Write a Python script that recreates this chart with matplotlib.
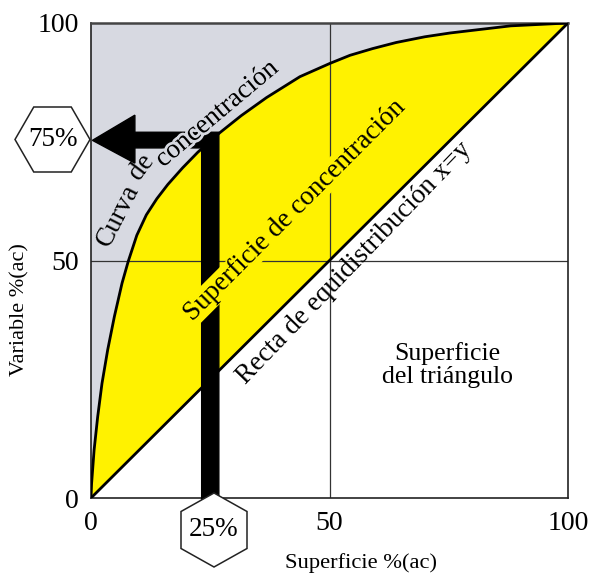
import numpy as np
import matplotlib.pyplot as plt
import matplotlib.patheffects as pe
from matplotlib.patches import Polygon

plt.rcParams['font.family'] = ['Liberation Serif', 'DejaVu Serif']

# curva de concentración
curve_x = [0, 0.12, 0.65, 1.4, 2.3, 3.5, 4.9, 6.5, 7.8, 9.6, 11.6, 13.8, 16.1,
           19.2, 22.4, 27, 31.5, 36.8, 43.8, 50.1, 54.3, 59, 64, 70, 75.3, 88, 100]
curve_y = [0, 3, 10.1, 17.1, 24.1, 31.2, 38.2, 45.2, 49.8, 55.3, 59.6, 63.0, 66.0,
           69.5, 72.8, 76.9, 80.5, 84.3, 88.7, 91.5, 93.2, 94.6, 95.9, 97.1, 97.9,
           99.4, 100]
diag = [0, 100]
ticks = [0, 50, 100]
point_x, point_y = 25, 75

gray = '#d7d9e1'
yellow = '#fff200'

fig = plt.figure(figsize=(5.92, 5.78), dpi=100)
ax = fig.add_axes([91 / 592, 1 - 498 / 578, 477 / 592, 475 / 578])
ax.set_facecolor(gray)

cx = np.array(curve_x)
cy = np.array(curve_y)
ax.fill_between(cx, cx, cy, color=yellow, lw=0, zorder=1)
ax.fill_between(diag, [0, 0], diag, color='white', lw=0, zorder=1)

ax.axvline(50, color='#333333', lw=0.9, zorder=2)
ax.axhline(50, color='#333333', lw=0.9, zorder=2)

ax.plot(cx, cy, color='black', lw=2, zorder=4, solid_joinstyle='round')
ax.plot(diag, diag, color='black', lw=2, zorder=4)

# flecha en L
bw = 3.6
arrow = [
    (point_x - bw / 2, -1.5),
    (point_x + bw / 2, -1.5),
    (point_x + bw / 2, point_y + 2.0),
    (9.2, point_y + 2.0),
    (9.2, point_y + 5.6),
    (0.3, point_y + 0.3),
    (9.2, point_y - 4.5),
    (9.2, point_y - 1.3),
    (point_x - bw / 2, point_y - 1.3),
]
ax.add_patch(Polygon(arrow, closed=True, color='black', zorder=5, clip_on=False))

ax.set_xlim(0, 100)
ax.set_ylim(0, 100)
ax.set_xticks(ticks)
ax.set_yticks(ticks)
ax.set_xticklabels([str(t) for t in ticks], fontsize=20)
ax.set_yticklabels([str(t) for t in ticks], fontsize=20)
ax.tick_params(length=0, pad=9)
for side in ['left', 'bottom', 'right']:
    ax.spines[side].set_color('#222222')
    ax.spines[side].set_linewidth(1.2)
ax.spines['top'].set_color('#444444')
ax.spines['top'].set_linewidth(1.8)

tkw = dict(fontsize=19.5, ha='center', va='center', rotation_mode='anchor', zorder=6)
ax.text(5.6, 59.5, 'Curva', rotation=63, **tkw)
ax.text(10.6, 69.8, 'de', rotation=53, **tkw)
ax.text(26.4, 80.8, 'concentración', rotation=40,
        path_effects=[pe.withStroke(linewidth=4, foreground=gray)], **tkw)
ax.text(42.8, 60.6, 'Superficie de concentración', rotation=45,
        bbox=dict(facecolor=yellow, edgecolor='none', pad=0.3), **tkw)
ax.text(55.2, 49.4, 'Recta de equidistribución x=y', rotation=46, **tkw)
ax.text(74.8, 28, 'Superficie\ndel triángulo', fontsize=18.5, ha='center',
        va='center', linespacing=1.1, zorder=6)

fig.text(361 / 592, 1 - 563 / 578, 'Superficie %(ac)', fontsize=16.2,
         ha='center', va='center')
fig.text(20 / 592, 1 - 310 / 578, 'Variable %(ac)', fontsize=16,
         ha='center', va='center', rotation=90)


def hexagon(cx_px, cy_px, w, h, pointy_top, label):
    if pointy_top:
        pts = [(0, h / 2), (w / 2, h / 4), (w / 2, -h / 4),
               (0, -h / 2), (-w / 2, -h / 4), (-w / 2, h / 4)]
    else:
        pts = [(w / 2, 0), (w / 4, h / 2), (-w / 4, h / 2),
               (-w / 2, 0), (-w / 4, -h / 2), (w / 4, -h / 2)]
    verts = [((cx_px + px) / 592, 1 - (cy_px - py) / 578) for px, py in pts]
    fig.patches.append(Polygon(verts, closed=True, facecolor='white',
                               edgecolor='#222222', lw=1.1,
                               transform=fig.transFigure, zorder=7))
    fig.text(cx_px / 592, 1 - cy_px / 578, label, fontsize=19.5,
             ha='center', va='center', zorder=8)


hexagon(52.5, 139.5, 75, 65, False, '%d%%' % point_y)
hexagon(214, 530, 66, 74, True, '%d%%' % point_x)

fig.savefig('out.png', dpi=100)
